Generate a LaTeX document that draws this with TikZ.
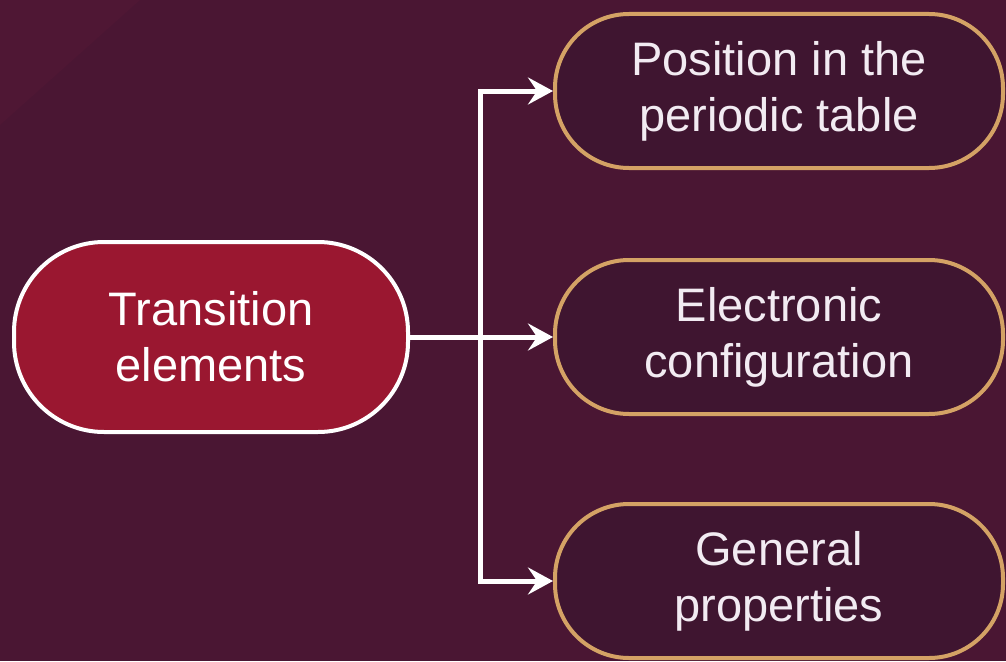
\documentclass[tikz,border=0pt]{standalone}
\usepackage{fontspec}
\setmainfont{Liberation Sans}
\usetikzlibrary{positioning,arrows.meta}

\definecolor{bgplum}{HTML}{4A1633}
\definecolor{bglight}{HTML}{4F1734}
\definecolor{topicred}{HTML}{9A1730}
\definecolor{boxplum}{HTML}{3F1530}
\definecolor{goldline}{HTML}{D4A265}
\definecolor{textwhite}{HTML}{F2EBF2}

\begin{document}
\begin{tikzpicture}[
x=1pt,y=-1pt,
>={Stealth[length=25pt,width=27pt,inset=9pt]},
topic/.style={
	draw=white,
	line width=4pt,
	fill=topicred,
	rectangle,
	rounded corners=90pt,
	minimum width=394pt,
	minimum height=190pt,
	align=center,
	text=white,
	font=\fontsize{47}{56}\selectfont
},
subtopic/.style={
	draw=goldline,
	line width=4pt,
	fill=boxplum,
	rectangle,
	rounded corners=74pt,
	minimum width=448pt,
	minimum height=154pt,
	align=center,
	text=textwhite,
	font=\fontsize{47}{56}\selectfont
},
branch/.style={
	->,
	draw=white,
	line width=5pt
}
]
% background
\fill[bgplum] (0,0) rectangle (1006,661);
\fill[bglight] (0,0) -- (140,0) -- (0,125) -- cycle;
\useasboundingbox (0,0) rectangle (1006,661);

\node[topic] (main) at (211,337) {Transition\\elements};

\foreach \y/\n/\t in {91/1/{Position in the\\periodic table},
	337/2/{Electronic\\configuration},
	581/3/{General\\properties}}
\node[subtopic] (sub\n) at (779,\y) {\t};

\coordinate (fork) at (480,337);

\draw[branch] (main.east) -- (sub2.west);
\draw[branch] (fork) |- (sub1.west);
\draw[branch] (fork) |- (sub3.west);
\end{tikzpicture}
\end{document}
